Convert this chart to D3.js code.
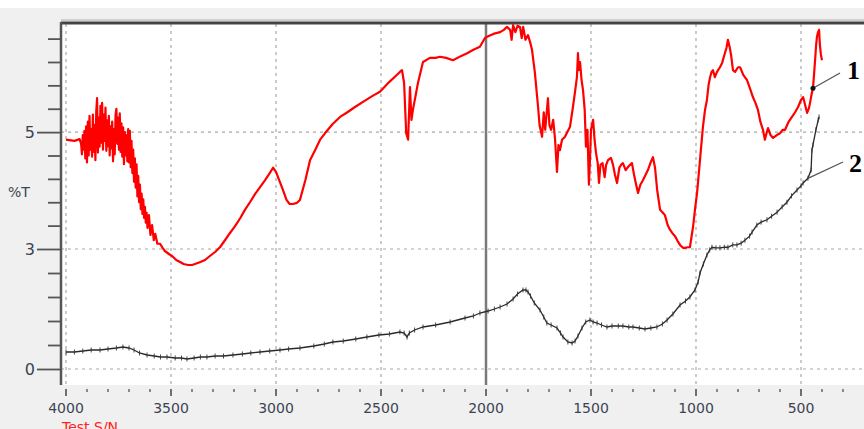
<!DOCTYPE html>
<html>
<head>
<meta charset="utf-8">
<script src="https://cdn.jsdelivr.net/npm/d3@7"></script>
<style>
  body { margin: 0; background: #f0f0f0; }
  svg { display: block; }
  .tick text { font-family: "DejaVu Sans", sans-serif; fill: #3c4452; }
</style>
</head>
<body>
<div id="chart"></div>
<script>
// curve 1 (red) : wavenumber, %T
var redWn = [4000,3960,3935,3928,3924,3920,3916,3912,3908,3904,3900,3896,3892,3888,3884,3880,3876,3872,3868,3864,3860,3856,3852,3848,3844,3840,3836,3832,3828,3824,3820,3816,3812,3808,3804,3800,3796,3792,3788,3784,3780,3776,3772,3768,3764,3760,3756,3752,3748,3744,3740,3736,3732,3728,3724,3720,3716,3712,3708,3704,3700,3696,3692,3688,3684,3680,3676,3672,3668,3664,3660,3656,3652,3648,3644,3640,3636,3632,3628,3624,3620,3616,3612,3605,3598,3590,3582,3575,3565,3552,3540,3529,3510,3495,3475,3457,3440,3419,3400,3386,3360,3338,3315,3290,3267,3243,3220,3195,3170,3148,3124,3100,3076,3052,3033,3014,3000,2985,2967,2950,2935,2919,2900,2886,2860,2838,2814,2790,2767,2730,2695,2660,2624,2580,2540,2505,2460,2430,2410,2400,2390,2380,2371,2362,2355,2348,2324,2300,2267,2240,2219,2190,2157,2120,2090,2060,2029,2005,1995,1965,1933,1915,1900,1885,1878,1871,1860,1850,1838,1830,1823,1812,1800,1790,1781,1767,1752,1745,1733,1725,1718,1705,1698,1690,1680,1671,1662,1655,1648,1638,1624,1600,1586,1575,1567,1562,1558,1552,1545,1538,1530,1524,1517,1510,1505,1500,1490,1483,1476,1468,1462,1455,1445,1435,1428,1419,1405,1395,1386,1376,1365,1355,1348,1335,1320,1305,1295,1285,1276,1265,1252,1240,1229,1215,1205,1195,1185,1171,1160,1148,1135,1124,1110,1100,1088,1076,1062,1052,1040,1029,1014,1005,995,981,967,957,948,940,933,926,919,910,900,886,876,865,855,848,840,833,824,814,800,790,775,757,743,729,717,705,693,681,672,665,657,645,633,615,600,588,576,560,543,528,514,500,490,480,471,462,457,450,443,438,433,428,424,419,414,410,405,400];
var redT = [4.87,4.85,4.88,4.80,4.62,4.95,4.70,5.02,4.55,5.10,4.48,5.18,4.60,5.28,4.70,5.05,4.58,5.30,4.66,5.12,4.52,5.35,5.58,4.65,5.25,4.75,5.45,4.82,5.50,4.70,5.30,4.85,5.42,4.68,5.20,4.76,5.28,4.60,5.10,4.72,5.18,4.50,5.05,4.62,5.30,5.40,4.80,5.25,4.70,5.32,4.66,5.15,4.58,5.08,4.45,5.00,4.60,4.95,4.50,5.05,4.48,5.02,4.40,4.85,4.30,4.70,4.15,4.55,4.05,4.45,3.90,4.25,3.80,4.10,3.68,3.95,3.60,3.85,3.53,3.72,3.45,3.62,3.36,3.58,3.24,3.41,3.15,3.26,3.09,3.09,3.02,2.95,2.875,2.825,2.725,2.675,2.625,2.60,2.60,2.625,2.675,2.725,2.825,2.925,3.03,3.15,3.27,3.39,3.53,3.67,3.80,3.94,4.06,4.18,4.28,4.39,4.32,4.18,4.01,3.84,3.77,3.77,3.79,3.84,4.18,4.52,4.69,4.87,4.98,5.14,5.26,5.34,5.43,5.53,5.62,5.69,5.86,5.96,6.03,6.06,5.84,4.98,4.87,5.77,5.21,5.38,5.84,6.20,6.27,6.27,6.29,6.27,6.23,6.30,6.35,6.41,6.46,6.61,6.63,6.68,6.71,6.75,6.80,6.75,6.58,6.83,6.71,6.82,6.80,6.61,6.80,6.58,6.66,6.54,6.41,6.01,5.43,5.12,4.92,5.34,5.04,5.58,5.12,5.04,5.21,4.87,4.32,4.78,4.69,4.87,4.92,5.09,5.43,5.72,5.94,6.35,6.06,6.20,5.89,5.72,5.38,4.75,5.04,4.10,4.52,5.04,5.21,4.87,4.64,4.47,4.13,4.44,4.47,4.23,4.44,4.52,4.56,4.44,4.27,4.13,4.39,4.45,4.47,4.35,4.42,4.47,4.27,4.10,3.96,4.10,4.18,4.27,4.35,4.49,4.57,4.39,4.01,3.67,3.63,3.58,3.41,3.33,3.26,3.22,3.14,3.07,3.02,3.02,3.03,3.03,3.38,3.67,3.96,4.52,5.09,5.38,5.55,5.81,5.94,6.03,6.06,5.94,6.03,6.11,6.18,6.32,6.44,6.58,6.46,6.32,6.06,6.03,6.11,6.11,5.98,5.89,5.75,5.60,5.50,5.38,5.17,5.04,4.87,4.97,5.07,4.95,4.90,4.95,4.98,5.04,5.04,5.17,5.26,5.34,5.43,5.55,5.60,5.46,5.33,5.41,5.50,5.64,5.75,5.98,6.23,6.49,6.63,6.71,6.75,6.49,6.32,6.23];

// curve 2 (black)
var blackWn = [4000,3960,3920,3880,3838,3800,3760,3729,3700,3676,3650,3614,3580,3550,3519,3480,3450,3424,3390,3360,3329,3290,3250,3205,3160,3120,3076,3030,2981,2940,2886,2820,2770,2729,2680,2620,2567,2510,2460,2410,2390,2376,2365,2340,2300,2240,2171,2100,2060,2029,1990,1960,1933,1900,1871,1850,1824,1810,1800,1788,1770,1743,1725,1710,1690,1662,1645,1633,1610,1590,1576,1562,1543,1525,1505,1490,1471,1450,1424,1400,1370,1348,1320,1300,1270,1243,1215,1186,1160,1138,1110,1076,1050,1029,1005,990,981,965,948,935,924,905,886,865,848,825,805,785,767,745,733,710,690,662,640,614,590,567,545,519,500,490,467,452,448,443,429,418,414];
var blackT = [0.425,0.425,0.45,0.475,0.475,0.50,0.525,0.55,0.525,0.475,0.40,0.35,0.325,0.30,0.30,0.275,0.275,0.25,0.275,0.30,0.30,0.325,0.325,0.35,0.375,0.40,0.425,0.45,0.475,0.50,0.525,0.575,0.625,0.675,0.70,0.75,0.80,0.85,0.875,0.925,0.90,0.80,0.90,0.975,1.05,1.10,1.175,1.275,1.325,1.40,1.45,1.50,1.55,1.625,1.75,1.875,1.975,1.975,1.925,1.825,1.65,1.475,1.30,1.15,1.10,1.025,0.90,0.80,0.675,0.65,0.70,0.825,1.025,1.175,1.225,1.175,1.15,1.10,1.05,1.075,1.075,1.075,1.05,1.05,1.025,1.00,1.025,1.05,1.125,1.225,1.375,1.60,1.70,1.80,1.975,2.175,2.40,2.625,2.85,2.975,3.03,3.02,3.02,3.03,3.03,3.07,3.07,3.10,3.15,3.22,3.29,3.41,3.46,3.50,3.56,3.63,3.72,3.80,3.91,4.01,4.08,4.13,4.21,4.35,4.69,4.78,5.04,5.21,5.26];

var xTicks = [4000, 3500, 3000, 2500, 2000, 1500, 1000, 500];
var yTicks = [0, 0.6, 1.2, 1.8, 2.4, 3, 3.4, 3.8, 4.2, 4.6, 5, 5.4, 5.8, 6.2, 6.6];
var yLabelled = [0, 3, 5];
var curveLabels = ["1", "2"];

(function () {
  var W = 864, H = 429;
  var mLeft = 61, mTop = 24, mBottom = 385;

  var svg = d3.select("#chart").append("svg").attr("width", W).attr("height", H);

  svg.append("rect").attr("width", W).attr("height", H).attr("fill", "#f0f0f0");
  svg.append("rect").attr("width", W).attr("height", 8).attr("fill", "#ffffff");

  var x = d3.scaleLinear().domain([4000, 200]).range([66, 864]);
  // the y axis of the original is not linear: 5 steps for 0..3 and 5 steps for 3..5
  var y = d3.scaleLinear().domain([-0.4, 0, 3, 6.85]).range([mBottom, 369, 249, mTop]);

  svg.append("clipPath").attr("id", "plotclip")
    .append("rect").attr("x", mLeft).attr("y", mTop).attr("width", W - mLeft).attr("height", mBottom - mTop);

  svg.append("rect").attr("x", mLeft).attr("y", mTop).attr("width", W - mLeft).attr("height", mBottom - mTop)
    .attr("fill", "#ffffff");

  // grid
  var grid = svg.append("g").attr("clip-path", "url(#plotclip)");
  grid.selectAll(".vg").data(xTicks).enter().append("line")
    .attr("x1", d => x(d)).attr("x2", d => x(d)).attr("y1", mTop).attr("y2", mBottom)
    .attr("stroke", "#a8a8a8").attr("stroke-width", 1.2).attr("stroke-dasharray", "3,4");
  grid.selectAll(".hg").data(yLabelled).enter().append("line")
    .attr("x1", mLeft).attr("x2", W).attr("y1", d => y(d)).attr("y2", d => y(d))
    .attr("stroke", "#a8a8a8").attr("stroke-width", 1.2).attr("stroke-dasharray", "3,4");

  // marker line at 2000
  svg.append("line").attr("x1", x(2000)).attr("x2", x(2000)).attr("y1", mTop).attr("y2", mBottom)
    .attr("stroke", "#7a7a7a").attr("stroke-width", 2.5);

  var line = d3.line().x(d => x(d[0])).y(d => y(d[1]));
  var plot = svg.append("g").attr("clip-path", "url(#plotclip)");

  var blackPts = d3.zip(blackWn, blackT);
  plot.append("path").datum(blackPts)
    .attr("d", line).attr("fill", "none").attr("stroke", "#2a2a2a").attr("stroke-width", 1.3);
  // small vertical ticks along the black trace, as in the instrument print
  plot.selectAll(".bt").data(blackPts).enter().append("line")
    .attr("x1", d => x(d[0])).attr("x2", d => x(d[0]))
    .attr("y1", d => y(d[1]) - 2.5).attr("y2", d => y(d[1]) + 2.5)
    .attr("stroke", "#333").attr("stroke-width", 0.9);

  plot.append("path").datum(d3.zip(redWn, redT))
    .attr("d", line).attr("fill", "none").attr("stroke", "#ff0000").attr("stroke-width", 2.2)
    .attr("stroke-linejoin", "round");

  // frame
  svg.append("line").attr("x1", mLeft).attr("x2", W).attr("y1", mTop - 1).attr("y2", mTop - 1)
    .attr("stroke", "#444").attr("stroke-width", 3);
  svg.append("line").attr("x1", mLeft).attr("x2", W).attr("y1", mTop - 4).attr("y2", mTop - 4)
    .attr("stroke", "#cfcfcf").attr("stroke-width", 2);

  // x axis
  var minor = d3.range(4000, 200, -100);
  svg.append("g").selectAll("line").data(minor).enter().append("line")
    .attr("x1", d => x(d)).attr("x2", d => x(d))
    .attr("y1", mBottom + 4).attr("y2", d => d % 500 === 0 ? mBottom + 11 : mBottom + 7)
    .attr("stroke", "#444").attr("stroke-width", d => d % 500 === 0 ? 1.5 : 1.2);
  svg.append("g").selectAll("text").data(xTicks).enter().append("text")
    .attr("x", d => x(d)).attr("y", 413).attr("text-anchor", "middle")
    .attr("font-family", "DejaVu Sans, sans-serif").attr("font-size", 14).attr("fill", "#3c4452")
    .text(d => d);

  svg.append("text").attr("x", 62).attr("y", 432)
    .attr("font-family", "DejaVu Sans, sans-serif").attr("font-size", 14).attr("fill", "#ff2020")
    .text("Test S/N");

  // y axis
  var yAxis = d3.axisLeft(y).tickValues(yTicks)
    .tickFormat(d => yLabelled.indexOf(d) >= 0 ? d : "")
    .tickSize(13).tickSizeOuter(0).tickPadding(4);
  var gy = svg.append("g").attr("transform", "translate(" + mLeft + ",0)").call(yAxis);
  gy.select(".domain").remove();
  gy.selectAll(".tick line").attr("stroke", "#555").attr("stroke-width", 1.8)
    .attr("x2", d => yLabelled.indexOf(d) >= 0 ? -24 : -13);
  gy.selectAll(".tick text").attr("x", -26).attr("font-size", 16).attr("fill", "#3c4452");
  svg.append("line").attr("x1", mLeft).attr("x2", mLeft).attr("y1", mTop - 2).attr("y2", mBottom)
    .attr("stroke", "#555").attr("stroke-width", 2.5);

  svg.append("text").attr("x", 8).attr("y", 197)
    .attr("font-family", "DejaVu Sans, sans-serif").attr("font-size", 14).attr("fill", "#3c4452")
    .text("%T");

  // curve labels with leader lines
  var callouts = [
    {label: curveLabels[0], wn: 443, t: 5.75, lx: 840, ly: 73, tx: 847, ty: 79, dot: true},
    {label: curveLabels[1], wn: 467, t: 4.21, lx: 843, ly: 162, tx: 849, ty: 172, dot: false}
  ];
  callouts.forEach(function (c) {
    svg.append("line").attr("x1", x(c.wn)).attr("y1", y(c.t)).attr("x2", c.lx).attr("y2", c.ly)
      .attr("stroke", "#555").attr("stroke-width", 1.3);
    if (c.dot) svg.append("circle").attr("cx", x(c.wn)).attr("cy", y(c.t)).attr("r", 2.5).attr("fill", "#111");
    svg.append("text").attr("x", c.tx).attr("y", c.ty)
      .attr("font-family", "Liberation Serif, serif").attr("font-weight", "bold").attr("font-size", 26)
      .attr("fill", "#000").text(c.label);
  });
})();
</script>
</body>
</html>
